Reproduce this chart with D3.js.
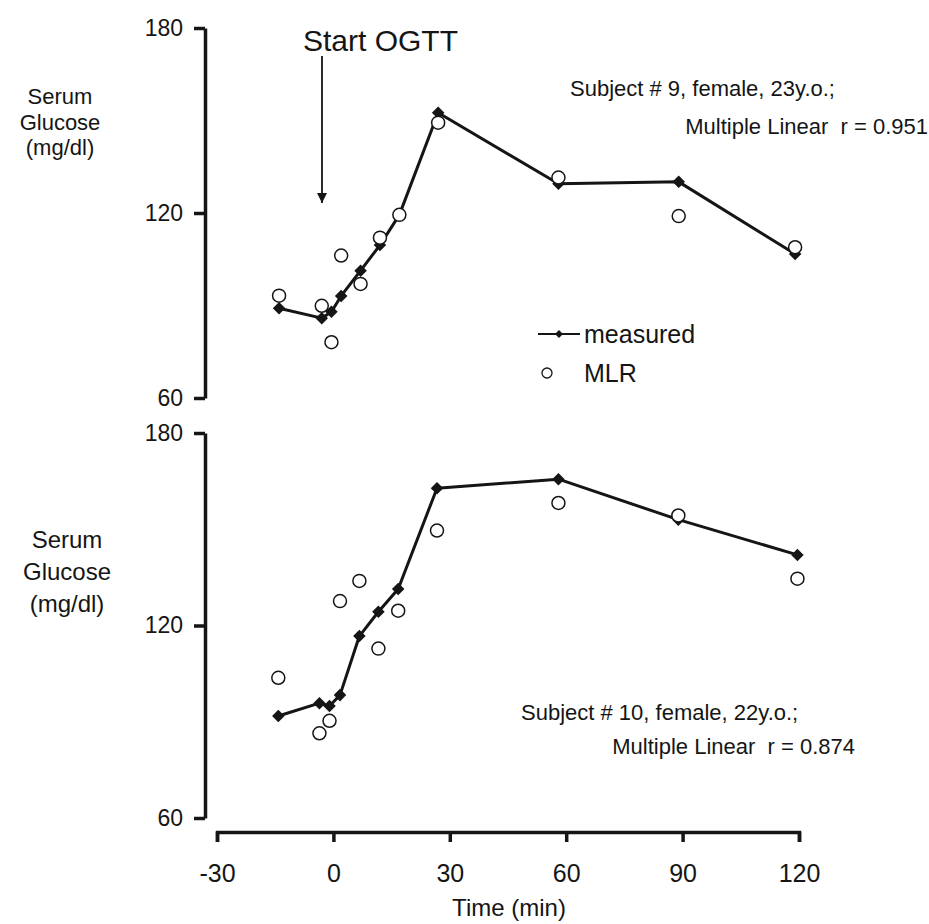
<!DOCTYPE html>
<html>
<head>
<meta charset="utf-8">
<script src="https://cdn.jsdelivr.net/npm/d3@7"></script>
<style>
    body { margin: 0; background: #fff; }
    svg { display: block; font-family: "Liberation Sans", Arial, sans-serif; }
</style>
</head>
<body>
<svg id="chart"></svg>
<script>
// Sampling times (min) and serum glucose (mg/dl)
const timesS9 = [-14, -3, -0.5, 2, 7, 12, 17, 27, 58, 89, 119];
const measuredS9 = [89.1, 85.9, 88.0, 93.1, 101.3, 109.6, 119.4, 152.5, 129.5, 130.1, 106.7];
const mlrS9 = [93.2, 89.9, 78.1, 106.2, 97.0, 112.0, 119.4, 149.3, 131.5, 119.0, 108.9];

const timesS10 = [-14.2, -3.6, -1, 1.7, 6.7, 11.6, 16.7, 26.7, 58, 88.9, 119.6];
const measuredS10 = [91.8, 95.8, 94.9, 98.3, 116.7, 124.3, 131.4, 162.8, 165.6, 153.0, 142.0];
const mlrS10 = [103.7, 86.4, 90.3, 127.6, 133.9, 112.8, 124.6, 149.6, 158.2, 154.3, 134.6];

const xTicks = [-30, 0, 30, 60, 90, 120];
const yTicks = [60, 120, 180];
const yLabelLines = ['Serum', 'Glucose', '(mg/dl)'];

const W = 929, H = 924;
const INK = '#151515';

const svg = d3.select('#chart')
    .attr('width', W)
    .attr('height', H);

// Shared time scale (x axis only drawn under the lower panel)
const xScale = d3.scaleLinear()
    .domain([-30, 120])
    .range([217, 799]);

const diamond = d3.symbol().type(d3.symbolDiamond2).size(100);

function styleAxis(g, fontSize) {
    g.select('.domain')
        .attr('stroke', INK)
        .attr('stroke-width', 3.5);
    g.selectAll('.tick line')
        .attr('stroke', INK)
        .attr('stroke-width', 3.5);
    g.selectAll('.tick text')
        .attr('fill', INK)
        .attr('font-size', fontSize)
        .attr('font-family', '"Liberation Sans", Arial, sans-serif');
}

function drawPanel(cfg) {
    const yScale = d3.scaleLinear()
        .domain([60, 180])
        .range([cfg.bottom, cfg.top]);

    // y axis, ticks pointing left
    const yAxis = d3.axisLeft(yScale)
        .tickValues(yTicks)
        .tickSize(11)
        .tickSizeOuter(0)
        .tickPadding(11);

    svg.append('g')
        .attr('transform', 'translate(205,0)')
        .call(yAxis)
        .call(g => styleAxis(g, 23));

    // stacked y label
    svg.append('text')
        .attr('text-anchor', 'middle')
        .attr('font-size', cfg.labelSize)
        .attr('fill', INK)
        .selectAll('tspan')
        .data(yLabelLines)
        .join('tspan')
            .attr('x', cfg.labelX)
            .attr('y', (d, i) => cfg.labelY + i * cfg.labelGap)
            .text(d => d);

    const points = cfg.times.map((t, i) => ({ t: t, measured: cfg.measured[i], mlr: cfg.mlr[i] }));

    const line = d3.line()
        .x(d => xScale(d.t))
        .y(d => yScale(d.measured));

    svg.append('path')
        .datum(points)
        .attr('d', line)
        .attr('fill', 'none')
        .attr('stroke', INK)
        .attr('stroke-width', 3)
        .attr('stroke-linejoin', 'round');

    svg.append('g')
        .selectAll('path')
        .data(points)
        .join('path')
            .attr('d', diamond)
            .attr('transform', d => `translate(${xScale(d.t)},${yScale(d.measured)})`)
            .attr('fill', INK);

    // MLR predictions drawn on top of the measured series
    svg.append('g')
        .selectAll('circle')
        .data(points)
        .join('circle')
            .attr('cx', d => xScale(d.t))
            .attr('cy', d => yScale(d.mlr))
            .attr('r', 6.5)
            .attr('fill', '#fff')
            .attr('stroke', INK)
            .attr('stroke-width', 1.5);

    // subject annotation
    svg.append('text')
        .attr('x', cfg.noteX)
        .attr('y', cfg.noteY)
        .attr('font-size', 22)
        .attr('fill', INK)
        .text(cfg.note);
    svg.append('text')
        .attr('x', cfg.rX)
        .attr('y', cfg.rY)
        .attr('text-anchor', 'end')
        .attr('font-size', 22)
        .attr('fill', INK)
        .attr('xml:space', 'preserve')
        .text(cfg.rText);

    return yScale;
}

drawPanel({
    top: 28, bottom: 398,
    times: timesS9, measured: measuredS9, mlr: mlrS9,
    labelX: 60, labelY: 104, labelGap: 25.5, labelSize: 22,
    note: 'Subject # 9, female, 23y.o.;', noteX: 570, noteY: 96,
    rText: 'Multiple Linear  r = 0.951', rX: 928, rY: 134
});

drawPanel({
    top: 433, bottom: 818,
    times: timesS10, measured: measuredS10, mlr: mlrS10,
    labelX: 67, labelY: 548, labelGap: 32, labelSize: 24,
    note: 'Subject # 10, female, 22y.o.;', noteX: 521, noteY: 720,
    rText: 'Multiple Linear  r = 0.874', rX: 855, rY: 754
});

// x axis under the lower panel, ticks pointing down
const xAxis = d3.axisBottom(xScale)
    .tickValues(xTicks)
    .tickFormat(d => String(d))
    .tickSize(10)
    .tickSizeOuter(10)
    .tickPadding(22);

svg.append('g')
    .attr('transform', 'translate(0,832)')
    .call(xAxis)
    .call(g => styleAxis(g, 25));

svg.append('text')
    .attr('x', 509)
    .attr('y', 916)
    .attr('text-anchor', 'middle')
    .attr('font-size', 24)
    .attr('fill', INK)
    .text('Time (min)');

// Start OGTT arrow at t = 0
svg.append('defs')
    .append('marker')
        .attr('id', 'arrow')
        .attr('viewBox', '0 0 10 10')
        .attr('refX', 10)
        .attr('refY', 5)
        .attr('markerWidth', 10)
        .attr('markerHeight', 10)
        .attr('markerUnits', 'userSpaceOnUse')
        .attr('orient', 'auto')
    .append('path')
        .attr('d', 'M0,0L10,5L0,10Z')
        .attr('fill', INK);

svg.append('line')
    .attr('x1', 322).attr('y1', 56)
    .attr('x2', 322).attr('y2', 203)
    .attr('stroke', INK)
    .attr('stroke-width', 1.8)
    .attr('marker-end', 'url(#arrow)');

svg.append('text')
    .attr('x', 303)
    .attr('y', 51)
    .attr('font-size', 30)
    .attr('fill', INK)
    .text('Start OGTT');

// legend
const legend = svg.append('g');
legend.append('line')
    .attr('x1', 538).attr('x2', 580)
    .attr('y1', 334).attr('y2', 334)
    .attr('stroke', INK)
    .attr('stroke-width', 2.2);
legend.append('path')
    .attr('d', d3.symbol().type(d3.symbolDiamond2).size(40))
    .attr('transform', 'translate(559,334)')
    .attr('fill', INK);
legend.append('text')
    .attr('x', 584).attr('y', 343)
    .attr('font-size', 25)
    .attr('fill', INK)
    .text('measured');
legend.append('circle')
    .attr('cx', 547).attr('cy', 373)
    .attr('r', 5)
    .attr('fill', '#fff')
    .attr('stroke', INK)
    .attr('stroke-width', 1.3);
legend.append('text')
    .attr('x', 584).attr('y', 382)
    .attr('font-size', 25)
    .attr('fill', INK)
    .text('MLR');
</script>
</body>
</html>
